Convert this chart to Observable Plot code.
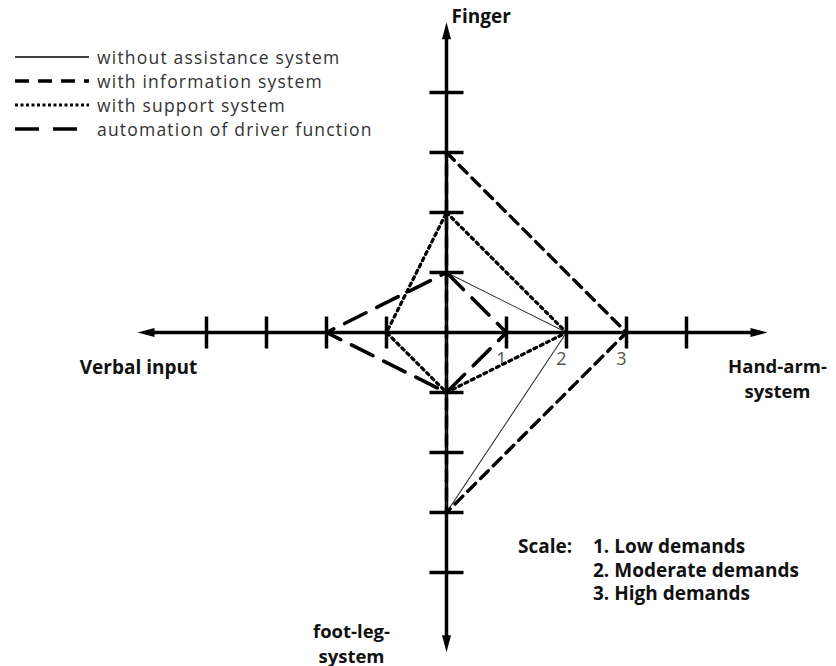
<!DOCTYPE html>
<html><head><meta charset="utf-8">
<script src="https://cdn.jsdelivr.net/npm/d3@7"></script>
<script src="https://cdn.jsdelivr.net/npm/@observablehq/plot@0.6"></script>
<style>
body{margin:0;background:#fff;}
#wrap{position:relative;width:836px;height:666px;font-family:"Open Sans",sans-serif;}
#wrap svg.plot{position:absolute;left:0;top:0;}
#legend{position:absolute;left:15px;top:45px;color:#333;font-size:17.5px;letter-spacing:1.2px;}
#legend .row{display:flex;align-items:center;height:24px;white-space:nowrap;}
#legend .row svg{margin-right:8px;flex:none;}
#legend .row span{display:block;line-height:24px;height:24px;}
#scale{position:absolute;left:518px;top:535px;font-weight:bold;font-size:19px;color:#111;line-height:23.5px;display:flex;}
#scale .lab{width:75px;}
</style></head><body><div id="wrap"></div>
<script>
// ---- data ----
const axes = ["Finger", "Hand-arm-system", "foot-leg-system", "Verbal input"];
const seriesNames = ["without assistance system", "with information system", "with support system", "automation of driver function"];
// values per axis, in the order of `axes`
const withoutAssistance = [1, 2, 3, 0];
const withInformation  = [3, 3, 3, 0];
const withSupport      = [2, 2, 1, 1];
const automation       = [1, 1, 1, 2];
const tickValues = [1, 2, 3, 4];
const tickLabels = ["1", "2", "3"];
const scaleTitle = "Scale:";
const scaleLabels = ["1. Low demands", "2. Moderate demands", "3. High demands"];
const axisLabels = ["Finger", "Hand-arm-\nsystem", "foot-leg-\nsystem", "Verbal input"];

// ---- layout ----
const W = 836, H = 666, cx = 446, cy = 332, unit = 60;
const dirs = [[0, 1], [1, 0], [0, -1], [-1, 0]];
const axisExtent = [5.17, 5.35, 5.33, 5.15]; // in units, to arrow tip

const allSeries = [withoutAssistance, withInformation, withSupport, automation];
const styles = [
  {stroke: "#333", strokeWidth: 1.1, strokeDasharray: null},
  {stroke: "#000", strokeWidth: 3.4, strokeDasharray: "11,7"},
  {stroke: "#000", strokeWidth: 3.2, strokeDasharray: "3,4"},
  {stroke: "#000", strokeWidth: 3.6, strokeDasharray: "24,12"}
];

function polygon(vals, name) {
  const pts = vals.map((v, i) => ({x: dirs[i][0] * v, y: dirs[i][1] * v, series: name}));
  pts.push(pts[0]);
  return pts;
}

const headLen = 17 / unit;
const axisLines = dirs.map((d, i) => ({
  x1: 0, y1: 0,
  x2: d[0] * (axisExtent[i] - headLen * 0.6),
  y2: d[1] * (axisExtent[i] - headLen * 0.6)
}));
const tips = dirs.map((d, i) => ({x: d[0] * axisExtent[i], y: d[1] * axisExtent[i], rot: [0, 90, 180, 270][i]}));
const arrowHead = {
  draw(ctx) { ctx.moveTo(0, 0); ctx.lineTo(4.5, 17); ctx.lineTo(-4.5, 17); ctx.closePath(); }
};

const hTicks = tickValues.flatMap(v => [v, -v]).map(v => ({x: v}));
const vTicks = tickValues.flatMap(v => [v, -v]).map(v => ({y: v}));
const hLen = 16 / unit, vLen = 17 / unit;

const marks = [
  // axes
  Plot.link(axisLines, {x1: "x1", y1: "y1", x2: "x2", y2: "y2", stroke: "#000", strokeWidth: 3.5}),
  Plot.dot(tips, {x: "x", y: "y", symbol: arrowHead, rotate: "rot", fill: "#000", stroke: "none", r: 3}),
  Plot.link(hTicks, {x1: "x", x2: "x", y1: -hLen, y2: hLen, stroke: "#000", strokeWidth: 3.5}),
  Plot.link(vTicks, {y1: "y", y2: "y", x1: -vLen, x2: vLen, stroke: "#000", strokeWidth: 3.5}),
  // tick labels
  Plot.text(tickLabels, {x: (d) => +d, y: 0, text: (d) => d, dy: 27, dx: -5, fill: "#555", fontSize: 18, fontFamily: "Open Sans"}),
];
allSeries.forEach((vals, i) => {
  marks.push(Plot.line(polygon(vals, seriesNames[i]), {
    x: "x", y: "y", curve: "linear",
    stroke: styles[i].stroke, strokeWidth: styles[i].strokeWidth,
    strokeDasharray: styles[i].strokeDasharray, strokeLinejoin: "miter"
  }));
});
// axis labels
const labelStyle = {fontWeight: "bold", fontSize: 19, fontFamily: "Open Sans", fill: "#111"};
const label2 = {...labelStyle, fontSize: 18.5, lineHeight: 1.34};
marks.push(
  Plot.text([axisLabels[0]], {x: 0, y: axisExtent[0], text: d => d, textAnchor: "start", dx: 5, dy: -5, ...labelStyle}),
  Plot.text([axisLabels[1]], {x: axisExtent[1], y: 0, text: d => d, textAnchor: "middle", dx: 10, dy: 45, ...label2}),
  Plot.text([axisLabels[2]], {x: 0, y: -axisExtent[2], text: d => d, textAnchor: "middle", dx: -95, dy: -10, ...label2}),
  Plot.text([axisLabels[3]], {x: -axisExtent[3], y: 0, text: d => d, textAnchor: "middle", dx: 1, dy: 35, ...labelStyle})
);

const chart = Plot.plot({
  width: W, height: H,
  margin: 0,
  x: {domain: [-cx / unit, (W - cx) / unit], range: [0, W], axis: null},
  y: {domain: [-(H - cy) / unit, cy / unit], range: [H, 0], axis: null},
  style: {background: "transparent", overflow: "visible"},
  marks
});

const wrap = document.getElementById("wrap");
wrap.appendChild(chart);

// legend
const legend = document.createElement("div");
legend.id = "legend";
seriesNames.forEach((name, i) => {
  const row = document.createElement("div");
  row.className = "row";
  const s = d3.create("svg").attr("width", 74).attr("height", 10);
  const st = styles[i];
  s.append("line").attr("x1", 0).attr("x2", 74).attr("y1", 5).attr("y2", 5)
    .attr("stroke", i === 0 ? "#000" : st.stroke).attr("stroke-width", i === 0 ? 1.3 : st.strokeWidth)
    .attr("stroke-dasharray", i === 1 ? "14,9" : i === 3 ? "24,14" : i === 2 ? "3,2.5" : null);
  row.appendChild(s.node());
  const t = document.createElement("span");
  t.textContent = name;
  row.appendChild(t);
  legend.appendChild(row);
});
wrap.appendChild(legend);

// scale note
const scale = document.createElement("div");
scale.id = "scale";
const lab = document.createElement("div"); lab.className = "lab"; lab.textContent = scaleTitle;
const list = document.createElement("div");
scaleLabels.forEach(s => { const d = document.createElement("div"); d.textContent = s; list.appendChild(d); });
scale.appendChild(lab); scale.appendChild(list);
wrap.appendChild(scale);
</script>
</body></html>
